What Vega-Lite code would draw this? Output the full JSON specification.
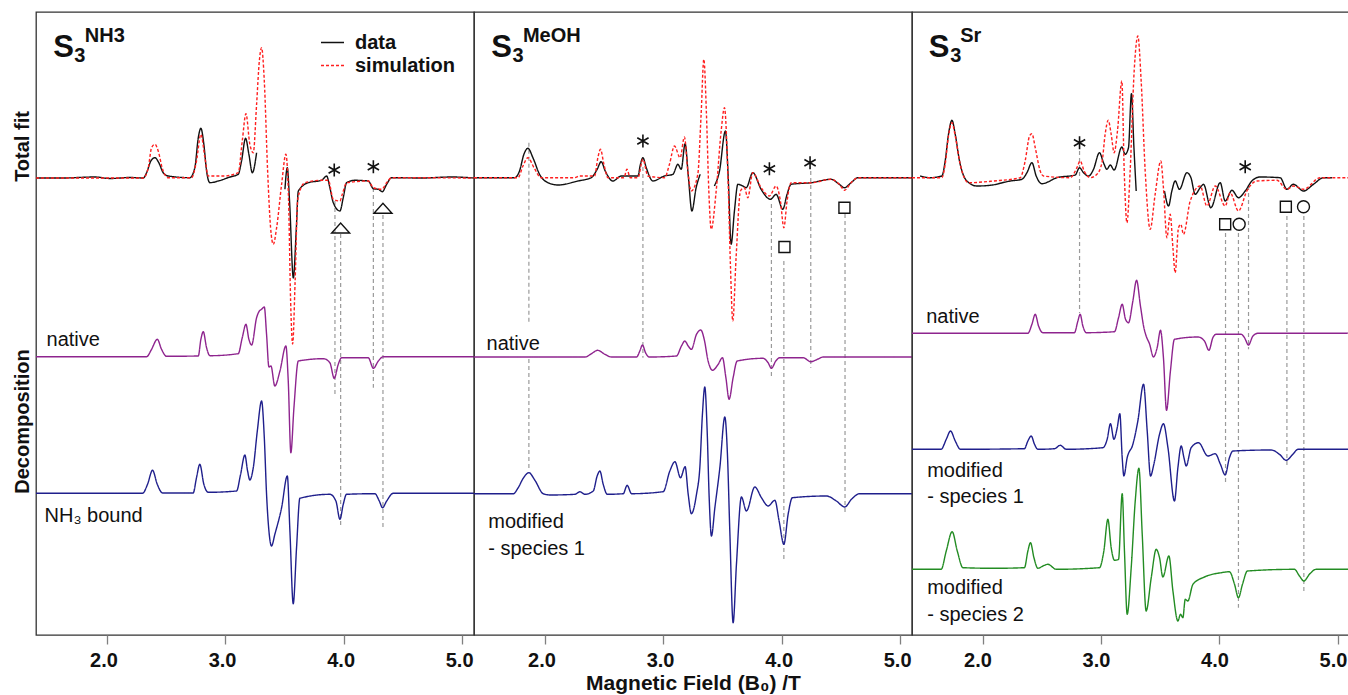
{
"$schema": "https://vega.github.io/schema/vega-lite/v6.json",
"padding": {"left": 0, "top": 11, "right": 0, "bottom": 0},
"background": "white",
"spacing": 0,
"bounds": "flush",
"config": {"view": {"stroke": "#333333", "strokeWidth": 1.3}, "font": "Liberation Sans"},
"resolve": {"scale": {"color": "independent", "strokeDash": "independent", "x": "independent", "y": "independent"}, "legend": {"color": "independent", "strokeDash": "independent"}},
"datasets": {
"l1": [
{"t":"data","x":1.405,"y":457},{"t":"data","x":1.62,"y":457},{"t":"data","x":1.90,"y":458},{"t":"data","x":2.03,"y":456.5},{"t":"data","x":2.20,"y":457.5},{"t":"data","x":2.310,"y":457},{"t":"data","x":2.338,"y":462.3},{"t":"data","x":2.374,"y":474},{"t":"data","x":2.408,"y":477.3},{"t":"data","x":2.441,"y":472.3},{"t":"data","x":2.478,"y":462.3},{"t":"data","x":2.521,"y":459},{"t":"data","x":2.703,"y":457.3},{"t":"data","x":2.745,"y":467.3},{"t":"data","x":2.774,"y":497.3},{"t":"data","x":2.796,"y":506.7},{"t":"data","x":2.821,"y":490.7},{"t":"data","x":2.844,"y":464},{"t":"data","x":2.872,"y":452.3},{"t":"data","x":2.943,"y":454},{"t":"data","x":3.041,"y":458},{"t":"data","x":3.111,"y":460.7},{"t":"data","x":3.139,"y":474},{"t":"data","x":3.173,"y":496.7},{"t":"data","x":3.201,"y":480.7},{"t":"data","x":3.230,"y":462.3},{"t":"data","x":3.266,"y":482.3},
{"t":"data","s":2,"x":3.505,"y":445.7},{"t":"data","s":2,"x":3.525,"y":467.3},{"t":"data","s":2,"x":3.544,"y":434},{"t":"data","s":2,"x":3.576,"y":357},{"t":"data","s":2,"x":3.600,"y":404},{"t":"data","s":2,"x":3.618,"y":444},{"t":"data","s":2,"x":3.702,"y":452.3},{"t":"data","s":2,"x":3.814,"y":454.7},{"t":"data","s":2,"x":3.857,"y":459},{"t":"data","s":2,"x":3.884,"y":447.3},{"t":"data","s":2,"x":3.913,"y":432.3},{"t":"data","s":2,"x":3.969,"y":424},{"t":"data","s":2,"x":3.997,"y":437.3},{"t":"data","s":2,"x":4.025,"y":452.3},{"t":"data","s":2,"x":4.095,"y":454.7},{"t":"data","s":2,"x":4.208,"y":454},{"t":"data","s":2,"x":4.251,"y":446.3},{"t":"data","s":2,"x":4.293,"y":445.7},{"t":"data","s":2,"x":4.327,"y":443.3},{"t":"data","s":2,"x":4.363,"y":450.7},{"t":"data","s":2,"x":4.405,"y":457.3},{"t":"data","s":2,"x":4.658,"y":457},{"t":"data","s":2,"x":4.911,"y":458},{"t":"data","s":2,"x":5.10,"y":457},
{"t":"simulation","x":1.405,"y":457},{"t":"simulation","x":2.310,"y":457},{"t":"simulation","x":2.352,"y":467.3},{"t":"simulation","x":2.380,"y":487.3},{"t":"simulation","x":2.408,"y":490.7},{"t":"simulation","x":2.436,"y":484},{"t":"simulation","x":2.473,"y":465.7},{"t":"simulation","x":2.521,"y":457.3},{"t":"simulation","x":2.717,"y":457.3},{"t":"simulation","x":2.759,"y":474},{"t":"simulation","x":2.796,"y":500.7},{"t":"simulation","x":2.830,"y":477.3},{"t":"simulation","x":2.858,"y":459},{"t":"simulation","x":2.985,"y":459},{"t":"simulation","x":3.111,"y":462.3},{"t":"simulation","x":3.145,"y":494},{"t":"simulation","x":3.176,"y":521.3},{"t":"simulation","x":3.209,"y":490.7},{"t":"simulation","x":3.238,"y":482.3},{"t":"simulation","x":3.266,"y":530.7},{"t":"simulation","x":3.289,"y":574},{"t":"simulation","x":3.308,"y":587.3},{"t":"simulation","x":3.331,"y":554},{"t":"simulation","x":3.359,"y":464},{"t":"simulation","x":3.384,"y":407.3},{"t":"simulation","x":3.407,"y":390.7},{"t":"simulation","x":3.435,"y":407.3},{"t":"simulation","x":3.477,"y":450.7},{"t":"simulation","x":3.513,"y":480.7},{"t":"simulation","x":3.536,"y":434},{"t":"simulation","x":3.553,"y":334},{"t":"simulation","x":3.570,"y":291},{"t":"simulation","x":3.591,"y":354},{"t":"simulation","x":3.612,"y":434},{"t":"simulation","x":3.631,"y":444},{"t":"simulation","x":3.673,"y":452.3},{"t":"simulation","x":3.814,"y":454.7},{"t":"simulation","x":3.871,"y":454.7},{"t":"simulation","x":3.913,"y":435.7},{"t":"simulation","x":3.969,"y":434},{"t":"simulation","x":3.989,"y":440.7},{"t":"simulation","x":4.025,"y":452.3},{"t":"simulation","x":4.208,"y":454},{"t":"simulation","x":4.251,"y":447.3},{"t":"simulation","x":4.321,"y":445.7},{"t":"simulation","x":4.363,"y":452.3},{"t":"simulation","x":4.405,"y":457.3},{"t":"simulation","x":5.10,"y":457},
{"t":"native","x":1.405,"y":278.3},{"t":"native","x":2.338,"y":278.3},{"t":"native","x":2.380,"y":285.7},{"t":"native","x":2.428,"y":295.7},{"t":"native","x":2.464,"y":285.7},{"t":"native","x":2.506,"y":278.7},{"t":"native","x":2.774,"y":279},{"t":"native","x":2.796,"y":295.7},{"t":"native","x":2.816,"y":303.3},{"t":"native","x":2.844,"y":287.3},{"t":"native","x":2.872,"y":279.3},{"t":"native","x":3.111,"y":281.3},{"t":"native","x":3.145,"y":297.3},{"t":"native","x":3.176,"y":310.7},{"t":"native","x":3.201,"y":295.7},{"t":"native","x":3.224,"y":290},{"t":"native","x":3.266,"y":317.3},{"t":"native","x":3.289,"y":324},{"t":"native","x":3.308,"y":325.7},{"t":"native","x":3.331,"y":328},{"t":"native","x":3.350,"y":300.7},{"t":"native","x":3.370,"y":268},{"t":"native","x":3.387,"y":269},{"t":"native","x":3.420,"y":249},{"t":"native","x":3.463,"y":264},{"t":"native","x":3.513,"y":289},{"t":"native","x":3.533,"y":254},{"t":"native","x":3.555,"y":182.3},{"t":"native","x":3.581,"y":227.3},{"t":"native","x":3.618,"y":274},{"t":"native","x":3.829,"y":276.3},{"t":"native","x":3.884,"y":272.3},{"t":"native","x":3.921,"y":256.7},{"t":"native","x":3.955,"y":270.7},{"t":"native","x":3.983,"y":277.3},{"t":"native","x":4.208,"y":277.3},{"t":"native","x":4.251,"y":266.7},{"t":"native","x":4.293,"y":274},{"t":"native","x":4.335,"y":278.3},{"t":"native","x":5.10,"y":278.3},
{"t":"NH3","x":1.405,"y":141.7},{"t":"NH3","x":2.304,"y":141.7},{"t":"NH3","x":2.346,"y":150.7},{"t":"NH3","x":2.388,"y":164.7},{"t":"NH3","x":2.428,"y":150.7},{"t":"NH3","x":2.473,"y":142},{"t":"NH3","x":2.731,"y":142},{"t":"NH3","x":2.759,"y":157.3},{"t":"NH3","x":2.787,"y":170.7},{"t":"NH3","x":2.821,"y":150.7},{"t":"NH3","x":2.858,"y":142.7},{"t":"NH3","x":3.097,"y":144},{"t":"NH3","x":3.131,"y":160.7},{"t":"NH3","x":3.167,"y":180},{"t":"NH3","x":3.190,"y":164},{"t":"NH3","x":3.209,"y":155},{"t":"NH3","x":3.238,"y":167.3},{"t":"NH3","x":3.272,"y":204},{"t":"NH3","x":3.308,"y":234},{"t":"NH3","x":3.331,"y":197.3},{"t":"NH3","x":3.350,"y":140.7},{"t":"NH3","x":3.370,"y":104},{"t":"NH3","x":3.392,"y":89},{"t":"NH3","x":3.420,"y":100.7},{"t":"NH3","x":3.477,"y":127.3},{"t":"NH3","x":3.525,"y":159},{"t":"NH3","x":3.547,"y":104},{"t":"NH3","x":3.575,"y":31.3},{"t":"NH3","x":3.603,"y":87.3},{"t":"NH3","x":3.631,"y":136.7},{"t":"NH3","x":3.884,"y":140.7},{"t":"NH3","x":3.935,"y":134},{"t":"NH3","x":3.969,"y":115.7},{"t":"NH3","x":3.997,"y":130.7},{"t":"NH3","x":4.025,"y":140.7},{"t":"NH3","x":4.264,"y":141.3},{"t":"NH3","x":4.301,"y":134},{"t":"NH3","x":4.329,"y":127.3},{"t":"NH3","x":4.363,"y":134},{"t":"NH3","x":4.419,"y":141.7},{"t":"NH3","x":5.10,"y":141.7}
],
"l2": [
{"t":"data","x":1.405,"y":457.3},{"t":"data","x":1.747,"y":457.3},{"t":"data","x":1.789,"y":464},{"t":"data","x":1.826,"y":480.7},{"t":"data","x":1.860,"y":486.7},{"t":"data","x":1.902,"y":477.3},{"t":"data","x":1.958,"y":460.7},{"t":"data","x":2.029,"y":452.3},{"t":"data","x":2.113,"y":450},{"t":"data","x":2.282,"y":454},{"t":"data","x":2.394,"y":457.3},{"t":"data","x":2.444,"y":465.7},{"t":"data","x":2.478,"y":473.3},{"t":"data","x":2.512,"y":464},{"t":"data","x":2.577,"y":454},{"t":"data","x":2.647,"y":459},{"t":"data","x":2.788,"y":459},{"t":"data","x":2.809,"y":470.7},{"t":"data","x":2.830,"y":477.3},{"t":"data","x":2.858,"y":467.3},{"t":"data","x":2.914,"y":454},{"t":"data","x":3.012,"y":459},{"t":"data","x":3.083,"y":460.7},{"t":"data","x":3.125,"y":470.7},{"t":"data","x":3.153,"y":465.7},{"t":"data","x":3.186,"y":491.3},{"t":"data","x":3.214,"y":457.3},{"t":"data","x":3.243,"y":424},{"t":"data","x":3.279,"y":447.3},{"t":"data","x":3.313,"y":460.7},
{"t":"data","s":2,"x":3.433,"y":449},{"t":"data","s":2,"x":3.476,"y":464},{"t":"data","s":2,"x":3.526,"y":504},{"t":"data","s":2,"x":3.551,"y":454},{"t":"data","s":2,"x":3.574,"y":390.7},{"t":"data","s":2,"x":3.602,"y":424},{"t":"data","s":2,"x":3.631,"y":450.7},{"t":"data","s":2,"x":3.673,"y":449},{"t":"data","s":2,"x":3.701,"y":447.3},{"t":"data","s":2,"x":3.757,"y":462.3},{"t":"data","s":2,"x":3.827,"y":445.7},{"t":"data","s":2,"x":3.906,"y":435.7},{"t":"data","s":2,"x":3.954,"y":440.7},{"t":"data","s":2,"x":4.010,"y":425.7},{"t":"data","s":2,"x":4.046,"y":440.7},{"t":"data","s":2,"x":4.080,"y":450.7},{"t":"data","s":2,"x":4.249,"y":452.3},{"t":"data","s":2,"x":4.417,"y":455.7},{"t":"data","s":2,"x":4.487,"y":450.7},{"t":"data","s":2,"x":4.530,"y":447.3},{"t":"data","s":2,"x":4.586,"y":452.3},{"t":"data","s":2,"x":4.643,"y":457.3},{"t":"data","s":2,"x":5.10,"y":457.3},
{"t":"simulation","x":1.405,"y":457.3},{"t":"simulation","x":1.776,"y":457.3},{"t":"simulation","x":1.818,"y":469},{"t":"simulation","x":1.860,"y":477.3},{"t":"simulation","x":1.911,"y":467.3},{"t":"simulation","x":1.972,"y":457.3},{"t":"simulation","x":2.253,"y":457.3},{"t":"simulation","x":2.295,"y":459},{"t":"simulation","x":2.422,"y":459},{"t":"simulation","x":2.450,"y":477.3},{"t":"simulation","x":2.472,"y":485.7},{"t":"simulation","x":2.501,"y":470.7},{"t":"simulation","x":2.535,"y":457.3},{"t":"simulation","x":2.670,"y":457.3},{"t":"simulation","x":2.695,"y":465.7},{"t":"simulation","x":2.723,"y":457.3},{"t":"simulation","x":2.788,"y":457.3},{"t":"simulation","x":2.830,"y":475.7},{"t":"simulation","x":2.872,"y":459},{"t":"simulation","x":3.012,"y":457.3},{"t":"simulation","x":3.054,"y":470.7},{"t":"simulation","x":3.096,"y":489},{"t":"simulation","x":3.144,"y":477.3},{"t":"simulation","x":3.180,"y":498},{"t":"simulation","x":3.209,"y":464},{"t":"simulation","x":3.237,"y":444},{"t":"simulation","x":3.293,"y":460.7},{"t":"simulation","x":3.321,"y":520.7},{"t":"simulation","x":3.344,"y":575.7},{"t":"simulation","x":3.366,"y":520.7},{"t":"simulation","x":3.386,"y":444},{"t":"simulation","x":3.406,"y":405.7},{"t":"simulation","x":3.448,"y":444},{"t":"simulation","x":3.490,"y":504},{"t":"simulation","x":3.518,"y":527.3},{"t":"simulation","x":3.546,"y":464},{"t":"simulation","x":3.568,"y":370.7},{"t":"simulation","x":3.588,"y":314},{"t":"simulation","x":3.616,"y":377.3},{"t":"simulation","x":3.653,"y":444},{"t":"simulation","x":3.686,"y":447.3},{"t":"simulation","x":3.715,"y":437.3},{"t":"simulation","x":3.757,"y":462.3},{"t":"simulation","x":3.827,"y":447.3},{"t":"simulation","x":3.897,"y":439},{"t":"simulation","x":3.954,"y":449},{"t":"simulation","x":3.990,"y":434},{"t":"simulation","x":4.019,"y":407.3},{"t":"simulation","x":4.046,"y":434},{"t":"simulation","x":4.080,"y":452.3},{"t":"simulation","x":4.249,"y":452.3},{"t":"simulation","x":4.417,"y":455.7},{"t":"simulation","x":4.487,"y":450.7},{"t":"simulation","x":4.530,"y":444.7},{"t":"simulation","x":4.586,"y":452.3},{"t":"simulation","x":4.643,"y":457.3},{"t":"simulation","x":5.10,"y":457.3},
{"t":"native","x":1.405,"y":278},{"t":"native","x":2.341,"y":278},{"t":"native","x":2.396,"y":281.3},{"t":"native","x":2.447,"y":284.7},{"t":"native","x":2.509,"y":280.7},{"t":"native","x":2.565,"y":278},{"t":"native","x":2.776,"y":278},{"t":"native","x":2.804,"y":284},{"t":"native","x":2.826,"y":290},{"t":"native","x":2.852,"y":282.3},{"t":"native","x":2.883,"y":278},{"t":"native","x":3.113,"y":279},{"t":"native","x":3.155,"y":289},{"t":"native","x":3.184,"y":294},{"t":"native","x":3.212,"y":289},{"t":"native","x":3.239,"y":285.7},{"t":"native","x":3.282,"y":300.7},{"t":"native","x":3.319,"y":305},{"t":"native","x":3.347,"y":295.7},{"t":"native","x":3.380,"y":274},{"t":"native","x":3.417,"y":264.7},{"t":"native","x":3.465,"y":270.7},{"t":"native","x":3.501,"y":277.3},{"t":"native","x":3.530,"y":257.3},{"t":"native","x":3.557,"y":235.7},{"t":"native","x":3.591,"y":257.3},{"t":"native","x":3.625,"y":274},{"t":"native","x":3.844,"y":276.7},{"t":"native","x":3.886,"y":272.3},{"t":"native","x":3.914,"y":266.7},{"t":"native","x":3.951,"y":274},{"t":"native","x":3.985,"y":277.3},{"t":"native","x":4.181,"y":277.3},{"t":"native","x":4.246,"y":273.3},{"t":"native","x":4.308,"y":276},{"t":"native","x":4.350,"y":278},{"t":"native","x":5.10,"y":278},
{"t":"mod1","x":1.405,"y":141.3},{"t":"mod1","x":1.736,"y":141.3},{"t":"mod1","x":1.778,"y":147.3},{"t":"mod1","x":1.820,"y":156.7},{"t":"mod1","x":1.868,"y":162.3},{"t":"mod1","x":1.919,"y":154.7},{"t":"mod1","x":1.989,"y":141.3},{"t":"mod1","x":2.046,"y":140},{"t":"mod1","x":2.256,"y":140.7},{"t":"mod1","x":2.298,"y":143.3},{"t":"mod1","x":2.341,"y":140.7},{"t":"mod1","x":2.411,"y":144},{"t":"mod1","x":2.444,"y":159},{"t":"mod1","x":2.467,"y":164},{"t":"mod1","x":2.495,"y":150.7},{"t":"mod1","x":2.529,"y":140.7},{"t":"mod1","x":2.664,"y":141.3},{"t":"mod1","x":2.697,"y":149.7},{"t":"mod1","x":2.734,"y":141.3},{"t":"mod1","x":3.001,"y":143.3},{"t":"mod1","x":3.057,"y":164},{"t":"mod1","x":3.100,"y":173.3},{"t":"mod1","x":3.147,"y":157.3},{"t":"mod1","x":3.186,"y":168.3},{"t":"mod1","x":3.212,"y":140.7},{"t":"mod1","x":3.239,"y":121.3},{"t":"mod1","x":3.282,"y":140.7},{"t":"mod1","x":3.310,"y":167.3},{"t":"mod1","x":3.332,"y":220.7},{"t":"mod1","x":3.352,"y":248},{"t":"mod1","x":3.372,"y":204},{"t":"mod1","x":3.389,"y":137.3},{"t":"mod1","x":3.408,"y":99},{"t":"mod1","x":3.437,"y":127.3},{"t":"mod1","x":3.479,"y":167.3},{"t":"mod1","x":3.521,"y":218},{"t":"mod1","x":3.543,"y":180.7},{"t":"mod1","x":3.563,"y":104},{"t":"mod1","x":3.591,"y":12.3},{"t":"mod1","x":3.619,"y":70.7},{"t":"mod1","x":3.661,"y":138},{"t":"mod1","x":3.703,"y":124},{"t":"mod1","x":3.774,"y":148},{"t":"mod1","x":3.830,"y":137.3},{"t":"mod1","x":3.886,"y":129},{"t":"mod1","x":3.943,"y":134.7},{"t":"mod1","x":3.979,"y":114},{"t":"mod1","x":4.019,"y":90.7},{"t":"mod1","x":4.055,"y":120.7},{"t":"mod1","x":4.091,"y":137.3},{"t":"mod1","x":4.378,"y":139},{"t":"mod1","x":4.462,"y":134},{"t":"mod1","x":4.533,"y":128},{"t":"mod1","x":4.589,"y":135.7},{"t":"mod1","x":4.659,"y":141.3},{"t":"mod1","x":5.10,"y":141.3}
],
"l3": [
{"t":"data","x":1.474,"y":459},{"t":"data","x":1.559,"y":457.3},{"t":"data","x":1.657,"y":459},{"t":"data","x":1.685,"y":474},{"t":"data","x":1.713,"y":500.7},{"t":"data","x":1.742,"y":514.7},{"t":"data","x":1.770,"y":500.7},{"t":"data","x":1.806,"y":474},{"t":"data","x":1.868,"y":454},{"t":"data","x":1.953,"y":449},{"t":"data","x":2.065,"y":449.7},{"t":"data","x":2.234,"y":454},{"t":"data","x":2.332,"y":455.7},{"t":"data","x":2.375,"y":462.3},{"t":"data","x":2.417,"y":472.3},{"t":"data","x":2.453,"y":459},{"t":"data","x":2.501,"y":451.3},{"t":"data","x":2.628,"y":457.3},{"t":"data","x":2.782,"y":460},{"t":"data","x":2.819,"y":467.3},{"t":"data","x":2.852,"y":462.3},{"t":"data","x":2.895,"y":459},{"t":"data","x":2.937,"y":465.7},{"t":"data","x":2.987,"y":482.3},{"t":"data","x":3.021,"y":472.3},{"t":"data","x":3.050,"y":465.7},{"t":"data","x":3.078,"y":470},{"t":"data","x":3.111,"y":465},{"t":"data","x":3.176,"y":488},{"t":"data","x":3.204,"y":480.7},{"t":"data","x":3.232,"y":487.3},{"t":"data","x":3.257,"y":541.3},{"t":"data","x":3.278,"y":487.3},{"t":"data","x":3.297,"y":444},
{"t":"data","s":2,"x":3.536,"y":444},{"t":"data","s":2,"x":3.570,"y":429},{"t":"data","s":2,"x":3.598,"y":444},{"t":"data","s":2,"x":3.626,"y":454},{"t":"data","s":2,"x":3.662,"y":445.7},{"t":"data","s":2,"x":3.725,"y":462.3},{"t":"data","s":2,"x":3.759,"y":457.3},{"t":"data","s":2,"x":3.795,"y":440.7},{"t":"data","s":2,"x":3.837,"y":447.3},{"t":"data","s":2,"x":3.865,"y":450.7},{"t":"data","s":2,"x":3.927,"y":427.3},{"t":"data","s":2,"x":4.006,"y":452.3},{"t":"data","s":2,"x":4.048,"y":434},{"t":"data","s":2,"x":4.105,"y":444.7},{"t":"data","s":2,"x":4.160,"y":437.3},{"t":"data","s":2,"x":4.217,"y":444},{"t":"data","s":2,"x":4.273,"y":454},{"t":"data","s":2,"x":4.343,"y":458},{"t":"data","s":2,"x":4.512,"y":457.3},{"t":"data","s":2,"x":4.569,"y":445.7},{"t":"data","s":2,"x":4.624,"y":450.7},{"t":"data","s":2,"x":4.709,"y":444},{"t":"data","s":2,"x":4.793,"y":450.7},{"t":"data","s":2,"x":4.878,"y":457.3},{"t":"data","s":2,"x":4.949,"y":457.3},
{"t":"simulation","x":1.405,"y":457.3},{"t":"simulation","x":1.657,"y":457.3},{"t":"simulation","x":1.685,"y":470.7},{"t":"simulation","x":1.713,"y":499},{"t":"simulation","x":1.742,"y":512.3},{"t":"simulation","x":1.770,"y":499},{"t":"simulation","x":1.812,"y":470.7},{"t":"simulation","x":1.882,"y":452.3},{"t":"simulation","x":2.093,"y":454},{"t":"simulation","x":2.318,"y":457.3},{"t":"simulation","x":2.360,"y":474},{"t":"simulation","x":2.397,"y":499},{"t":"simulation","x":2.417,"y":501.3},{"t":"simulation","x":2.445,"y":487.3},{"t":"simulation","x":2.487,"y":464},{"t":"simulation","x":2.515,"y":459},{"t":"simulation","x":2.740,"y":457.3},{"t":"simulation","x":2.797,"y":467.3},{"t":"simulation","x":2.824,"y":474},{"t":"simulation","x":2.858,"y":464},{"t":"simulation","x":2.909,"y":457.3},{"t":"simulation","x":2.965,"y":460.7},{"t":"simulation","x":3.008,"y":472.3},{"t":"simulation","x":3.035,"y":500.7},{"t":"simulation","x":3.061,"y":514.7},{"t":"simulation","x":3.086,"y":500.7},{"t":"simulation","x":3.111,"y":482.3},{"t":"simulation","x":3.139,"y":504},{"t":"simulation","x":3.176,"y":554},{"t":"simulation","x":3.196,"y":464},{"t":"simulation","x":3.219,"y":412.3},{"t":"simulation","x":3.246,"y":464},{"t":"simulation","x":3.280,"y":564},{"t":"simulation","x":3.311,"y":599},{"t":"simulation","x":3.339,"y":554},{"t":"simulation","x":3.373,"y":464},{"t":"simulation","x":3.415,"y":405.7},{"t":"simulation","x":3.457,"y":440.7},{"t":"simulation","x":3.505,"y":474},{"t":"simulation","x":3.527,"y":447.3},{"t":"simulation","x":3.556,"y":397.3},{"t":"simulation","x":3.584,"y":420.7},{"t":"simulation","x":3.607,"y":387.3},{"t":"simulation","x":3.626,"y":362.3},{"t":"simulation","x":3.654,"y":407.3},{"t":"simulation","x":3.674,"y":410.7},{"t":"simulation","x":3.696,"y":400.7},{"t":"simulation","x":3.753,"y":434},{"t":"simulation","x":3.837,"y":449},{"t":"simulation","x":3.894,"y":429},{"t":"simulation","x":3.964,"y":449},{"t":"simulation","x":4.048,"y":429},{"t":"simulation","x":4.090,"y":442.3},{"t":"simulation","x":4.160,"y":424},{"t":"simulation","x":4.231,"y":444},{"t":"simulation","x":4.316,"y":454},{"t":"simulation","x":4.484,"y":454.7},{"t":"simulation","x":4.569,"y":445.7},{"t":"simulation","x":4.624,"y":449},{"t":"simulation","x":4.709,"y":445.7},{"t":"simulation","x":4.850,"y":457.3},{"t":"simulation","x":5.093,"y":457.3},
{"t":"native","x":1.405,"y":301.7},{"t":"native","x":2.383,"y":301.7},{"t":"native","x":2.417,"y":310.7},{"t":"native","x":2.445,"y":320.7},{"t":"native","x":2.473,"y":309},{"t":"native","x":2.510,"y":302.3},{"t":"native","x":2.776,"y":302.3},{"t":"native","x":2.805,"y":314},{"t":"native","x":2.824,"y":320.7},{"t":"native","x":2.847,"y":309},{"t":"native","x":2.875,"y":302.3},{"t":"native","x":3.114,"y":303.3},{"t":"native","x":3.148,"y":317.3},{"t":"native","x":3.179,"y":330.7},{"t":"native","x":3.207,"y":315.7},{"t":"native","x":3.232,"y":312.3},{"t":"native","x":3.269,"y":334},{"t":"native","x":3.300,"y":354.7},{"t":"native","x":3.333,"y":329},{"t":"native","x":3.362,"y":307.3},{"t":"native","x":3.381,"y":299},{"t":"native","x":3.409,"y":291.3},{"t":"native","x":3.443,"y":278},{"t":"native","x":3.474,"y":287.3},{"t":"native","x":3.502,"y":304.7},{"t":"native","x":3.527,"y":277.3},{"t":"native","x":3.553,"y":224.7},{"t":"native","x":3.586,"y":264},{"t":"native","x":3.620,"y":295.7},{"t":"native","x":3.818,"y":298},{"t":"native","x":3.873,"y":294},{"t":"native","x":3.911,"y":284.7},{"t":"native","x":3.944,"y":297.3},{"t":"native","x":3.972,"y":300.7},{"t":"native","x":4.183,"y":300.7},{"t":"native","x":4.211,"y":297.3},{"t":"native","x":4.245,"y":290},{"t":"native","x":4.282,"y":299},{"t":"native","x":4.324,"y":301.7},{"t":"native","x":5.093,"y":301.7},
{"t":"mod1","x":1.405,"y":185.7},{"t":"mod1","x":1.651,"y":185.7},{"t":"mod1","x":1.694,"y":195.7},{"t":"mod1","x":1.730,"y":204},{"t":"mod1","x":1.770,"y":194},{"t":"mod1","x":1.814,"y":185.7},{"t":"mod1","x":2.354,"y":186.3},{"t":"mod1","x":2.383,"y":194},{"t":"mod1","x":2.411,"y":199},{"t":"mod1","x":2.439,"y":190.7},{"t":"mod1","x":2.467,"y":185.7},{"t":"mod1","x":2.608,"y":186.3},{"t":"mod1","x":2.656,"y":189.7},{"t":"mod1","x":2.706,"y":185.7},{"t":"mod1","x":3.016,"y":187.3},{"t":"mod1","x":3.052,"y":195.7},{"t":"mod1","x":3.080,"y":211.3},{"t":"mod1","x":3.109,"y":195.7},{"t":"mod1","x":3.137,"y":207.3},{"t":"mod1","x":3.159,"y":221.3},{"t":"mod1","x":3.179,"y":177.3},{"t":"mod1","x":3.193,"y":159},{"t":"mod1","x":3.221,"y":177.3},{"t":"mod1","x":3.269,"y":190.7},{"t":"mod1","x":3.311,"y":214},{"t":"mod1","x":3.359,"y":250.7},{"t":"mod1","x":3.390,"y":204},{"t":"mod1","x":3.418,"y":159},{"t":"mod1","x":3.446,"y":170.7},{"t":"mod1","x":3.494,"y":200.7},{"t":"mod1","x":3.527,"y":211.3},{"t":"mod1","x":3.565,"y":187.3},{"t":"mod1","x":3.620,"y":134},{"t":"mod1","x":3.649,"y":167.3},{"t":"mod1","x":3.677,"y":189},{"t":"mod1","x":3.700,"y":177.3},{"t":"mod1","x":3.719,"y":169},{"t":"mod1","x":3.761,"y":187.3},{"t":"mod1","x":3.823,"y":192.3},{"t":"mod1","x":3.902,"y":179},{"t":"mod1","x":3.964,"y":181.3},{"t":"mod1","x":4.008,"y":170.7},{"t":"mod1","x":4.048,"y":160},{"t":"mod1","x":4.084,"y":177.3},{"t":"mod1","x":4.113,"y":184},{"t":"mod1","x":4.436,"y":185},{"t":"mod1","x":4.506,"y":180.7},{"t":"mod1","x":4.563,"y":174.7},{"t":"mod1","x":4.619,"y":180.7},{"t":"mod1","x":4.662,"y":185.7},{"t":"mod1","x":5.093,"y":185.7},
{"t":"mod2","x":1.405,"y":65.7},{"t":"mod2","x":1.651,"y":65.7},{"t":"mod2","x":1.694,"y":84},{"t":"mod2","x":1.744,"y":103.3},{"t":"mod2","x":1.787,"y":84},{"t":"mod2","x":1.835,"y":67.3},{"t":"mod2","x":2.101,"y":66.7},{"t":"mod2","x":2.354,"y":67.3},{"t":"mod2","x":2.383,"y":84},{"t":"mod2","x":2.405,"y":92.3},{"t":"mod2","x":2.434,"y":77.3},{"t":"mod2","x":2.467,"y":66.7},{"t":"mod2","x":2.510,"y":69},{"t":"mod2","x":2.552,"y":70.7},{"t":"mod2","x":2.622,"y":65.7},{"t":"mod2","x":2.987,"y":67.3},{"t":"mod2","x":3.024,"y":84},{"t":"mod2","x":3.058,"y":115.7},{"t":"mod2","x":3.086,"y":87.3},{"t":"mod2","x":3.114,"y":74.7},{"t":"mod2","x":3.148,"y":75.7},{"t":"mod2","x":3.179,"y":141.3},{"t":"mod2","x":3.198,"y":84},{"t":"mod2","x":3.221,"y":20.7},{"t":"mod2","x":3.255,"y":67.3},{"t":"mod2","x":3.289,"y":134},{"t":"mod2","x":3.320,"y":166.7},{"t":"mod2","x":3.348,"y":100.7},{"t":"mod2","x":3.381,"y":24},{"t":"mod2","x":3.424,"y":57.3},{"t":"mod2","x":3.466,"y":85.7},{"t":"mod2","x":3.494,"y":77.3},{"t":"mod2","x":3.522,"y":58},{"t":"mod2","x":3.573,"y":79},{"t":"mod2","x":3.607,"y":44},{"t":"mod2","x":3.649,"y":14},{"t":"mod2","x":3.671,"y":20.7},{"t":"mod2","x":3.691,"y":17.3},{"t":"mod2","x":3.711,"y":35.7},{"t":"mod2","x":3.733,"y":34},{"t":"mod2","x":3.776,"y":50.7},{"t":"mod2","x":3.873,"y":58},{"t":"mod2","x":4.014,"y":62.3},{"t":"mod2","x":4.084,"y":63.3},{"t":"mod2","x":4.127,"y":50.7},{"t":"mod2","x":4.160,"y":37.3},{"t":"mod2","x":4.194,"y":50.7},{"t":"mod2","x":4.236,"y":64},{"t":"mod2","x":4.633,"y":65.7},{"t":"mod2","x":4.675,"y":59},{"t":"mod2","x":4.712,"y":54},{"t":"mod2","x":4.759,"y":60.7},{"t":"mod2","x":4.816,"y":65.7},{"t":"mod2","x":5.093,"y":65.7}
],
"rules": [
{"p":1,"x":3.927,"y":434,"y2":240.7},{"p":1,"x":3.975,"y":401,"y2":107},{"p":1,"x":4.251,"y":447,"y2":247.3},{"p":1,"x":4.332,"y":420,"y2":107},
{"p":2,"x":1.868,"y":492.3,"y2":310.7},{"p":2,"x":1.868,"y":276,"y2":166},{"p":2,"x":2.830,"y":468,"y2":277.3},{"p":2,"x":3.914,"y":431,"y2":256},{"p":2,"x":4.019,"y":374,"y2":76},{"p":2,"x":4.246,"y":464,"y2":267.3},{"p":2,"x":4.535,"y":421,"y2":121},
{"p":3,"x":2.819,"y":484,"y2":322},{"p":3,"x":4.051,"y":402,"y2":150.7},{"p":3,"x":4.160,"y":402,"y2":27.3},{"p":3,"x":4.245,"y":449,"y2":285.7},{"p":3,"x":4.569,"y":419,"y2":167.3},{"p":3,"x":4.712,"y":419,"y2":42.3}
],
"marks": [
{"p":1,"m":"star","x":3.921,"y":465},{"p":1,"m":"star","x":4.251,"y":468.3},{"p":1,"m":"tri","x":3.975,"y":407},{"p":1,"m":"tri","x":4.332,"y":426.7},
{"p":2,"m":"star","x":2.830,"y":494},{"p":2,"m":"star","x":3.897,"y":466.3},{"p":2,"m":"star","x":4.240,"y":472.3},{"p":2,"m":"sq","x":4.024,"y":388},{"p":2,"m":"sq","x":4.530,"y":427.3},
{"p":3,"m":"star","x":2.819,"y":492.3},{"p":3,"m":"star","x":4.217,"y":468.3},{"p":3,"m":"sq","x":4.048,"y":410.7},{"p":3,"m":"circ","x":4.166,"y":410.7},{"p":3,"m":"sq","x":4.560,"y":428.3},{"p":3,"m":"circ","x":4.709,"y":428.3}
],
"labels": [
{"p":1,"x":1.494,"y":289,"txt":"native"},{"p":1,"x":1.477,"y":113.3,"txt":"NH₃ bound"},
{"p":2,"x":1.511,"y":285,"txt":"native"},{"p":2,"x":1.525,"y":106.7,"txt":"modified"},{"p":2,"x":1.525,"y":80,"txt":"- species 1"},
{"p":3,"x":1.525,"y":312.3,"txt":"native"},{"p":3,"x":1.533,"y":158.3,"txt":"modified"},{"p":3,"x":1.533,"y":132.3,"txt":"- species 1"},{"p":3,"x":1.533,"y":40.7,"txt":"modified"},{"p":3,"x":1.533,"y":14,"txt":"- species 2"}
],
"titles": [
{"p":1,"part":"S","x":1.550,"y":578.5,"txt":"S"},{"p":1,"part":"sub","x":1.727,"y":573,"txt":"3"},{"p":1,"part":"sup","x":1.817,"y":593,"txt":"NH3"},
{"p":2,"part":"S","x":1.550,"y":578.5,"txt":"S"},{"p":2,"part":"sub","x":1.730,"y":573,"txt":"3"},{"p":2,"part":"sup","x":1.818,"y":593,"txt":"MeOH"},
{"p":3,"part":"S","x":1.546,"y":578.5,"txt":"S"},{"p":3,"part":"sub","x":1.727,"y":573,"txt":"3"},{"p":3,"part":"sup","x":1.812,"y":593,"txt":"Sr"}
]
},
"hconcat": [
{
"width": 438, "height": 623,
"encoding": {
 "x": {"field": "x", "type": "quantitative", "scale": {"domain": [1.405, 5.1], "nice": false, "zero": false},
  "axis": {"values": [2, 3, 4, 5], "format": ".1f", "title": null, "domain": false, "grid": false, "tickColor": "#808080", "tickSize": 9, "tickWidth": 1.3, "labelFontSize": 20, "labelFontWeight": "bold", "labelColor": "#111111", "labelPadding": 6, "labelOffset": -3, "labelFont": "Liberation Sans", "labelFlush": false}},
 "y": {"field": "y", "type": "quantitative", "scale": {"domain": [0, 623], "nice": false, "zero": false},
  "axis": {"values": [489, 214], "labelExpr": "datum.value > 300 ? 'Total fit' : 'Decomposition'", "labelAngle": 270, "labelAlign": "center", "labelBaseline": "bottom", "ticks": false, "tickSize": 0, "domain": false, "grid": false, "title": null, "labelFontSize": 20, "labelFontWeight": "bold", "labelColor": "#111111", "labelPadding": 4, "minExtent": 35, "maxExtent": 35, "labelFont": "Liberation Sans"}}
},
"layer": [
{"data": {"name": "rules"}, "transform": [{"filter": "datum.p == 1"}],
 "mark": {"type": "rule", "strokeDash": [4, 3], "color": "#9a9a9a", "strokeWidth": 1.2},
 "encoding": {"y2": {"field": "y2"}}},
{"data": {"name": "l1"},
 "mark": {"type": "line", "strokeWidth": 1.4, "interpolate": "monotone"},
 "encoding": {
  "detail": {"field": "s", "type": "nominal"},
  "color": {"field": "t", "type": "nominal", "scale": {"domain": ["data", "simulation", "native", "NH3"], "range": ["#111111", "#ff1f1f", "#8e248e", "#1f1f8c"]},
   "legend": {"values": ["data", "simulation"], "orient": "none", "legendX": 284, "legendY": 18, "title": null, "symbolType": "stroke", "symbolSize": 529, "symbolStrokeWidth": 1.6, "labelFontSize": 20, "labelFontWeight": "bold", "labelColor": "#111111", "labelFont": "Liberation Sans", "labelOffset": 10, "rowPadding": 0, "padding": 0}},
  "strokeDash": {"field": "t", "type": "nominal", "scale": {"domain": ["data", "simulation", "native", "NH3"], "range": [[1, 0], [3, 2], [1, 0], [1, 0]]},
   "legend": {"values": ["data", "simulation"], "orient": "none", "legendX": 284, "legendY": 18, "title": null, "symbolType": "stroke", "symbolSize": 529, "symbolStrokeWidth": 1.6, "labelFontSize": 20, "labelFontWeight": "bold", "labelColor": "#111111", "labelFont": "Liberation Sans", "labelOffset": 10, "rowPadding": 0, "padding": 0}}}},
{"data": {"name": "marks"}, "transform": [{"filter": "datum.p == 1 && datum.m == 'star'"}],
 "mark": {"type": "point", "shape": "M0,-1L0,1M-0.87,-0.5L0.87,0.5M-0.87,0.5L0.87,-0.5", "size": 169, "filled": false, "stroke": "#111111", "strokeWidth": 1.6, "opacity": 1}},
{"data": {"name": "marks"}, "transform": [{"filter": "datum.p == 1 && datum.m == 'tri'"}],
 "mark": {"type": "point", "shape": "M-1,0.55L1,0.55L0,-0.55Z", "size": 324, "filled": false, "stroke": "#111111", "strokeWidth": 1.4, "opacity": 1}},
{"data": {"name": "labels"}, "transform": [{"filter": "datum.p == 1"}],
 "mark": {"type": "text", "align": "left", "baseline": "alphabetic", "fontSize": 20, "font": "Liberation Sans", "color": "#111111"},
 "encoding": {"text": {"field": "txt"}}},
{"data": {"name": "titles"}, "transform": [{"filter": "datum.p == 1 && datum.part == 'S'"}],
 "mark": {"type": "text", "align": "left", "baseline": "alphabetic", "fontSize": 31, "fontWeight": "bold", "font": "Liberation Sans", "color": "#111111"},
 "encoding": {"text": {"field": "txt"}}},
{"data": {"name": "titles"}, "transform": [{"filter": "datum.p == 1 && datum.part != 'S'"}],
 "mark": {"type": "text", "align": "left", "baseline": "alphabetic", "fontSize": 20, "fontWeight": "bold", "font": "Liberation Sans", "color": "#111111"},
 "encoding": {"text": {"field": "txt"}}}
]
},
{
"width": 438, "height": 623,
"encoding": {
 "x": {"field": "x", "type": "quantitative", "scale": {"domain": [1.405, 5.1], "nice": false, "zero": false},
  "axis": {"values": [2, 3, 4, 5], "format": ".1f", "title": "Magnetic Field (B₀) /T", "domain": false, "grid": false, "tickColor": "#808080", "tickSize": 9, "tickWidth": 1.3, "labelFontSize": 20, "labelFontWeight": "bold", "labelColor": "#111111", "labelPadding": 6, "labelOffset": -3, "labelFont": "Liberation Sans", "labelFlush": false, "titleFont": "Liberation Sans", "titleFontSize": 21, "titleFontWeight": "bold", "titleColor": "#111111", "titlePadding": 2}},
 "y": {"field": "y", "type": "quantitative", "scale": {"domain": [0, 623], "nice": false, "zero": false}, "axis": null}
},
"layer": [
{"data": {"name": "rules"}, "transform": [{"filter": "datum.p == 2"}],
 "mark": {"type": "rule", "strokeDash": [4, 3], "color": "#9a9a9a", "strokeWidth": 1.2},
 "encoding": {"y2": {"field": "y2"}}},
{"data": {"name": "l2"},
 "mark": {"type": "line", "strokeWidth": 1.4, "interpolate": "monotone"},
 "encoding": {
  "detail": {"field": "s", "type": "nominal"},
  "color": {"field": "t", "type": "nominal", "legend": null, "scale": {"domain": ["data", "simulation", "native", "mod1"], "range": ["#111111", "#ff1f1f", "#8e248e", "#1f1f8c"]}},
  "strokeDash": {"field": "t", "type": "nominal", "legend": null, "scale": {"domain": ["data", "simulation", "native", "mod1"], "range": [[1, 0], [3, 2], [1, 0], [1, 0]]}}}},
{"data": {"name": "marks"}, "transform": [{"filter": "datum.p == 2 && datum.m == 'star'"}],
 "mark": {"type": "point", "shape": "M0,-1L0,1M-0.87,-0.5L0.87,0.5M-0.87,0.5L0.87,-0.5", "size": 169, "filled": false, "stroke": "#111111", "strokeWidth": 1.6, "opacity": 1}},
{"data": {"name": "marks"}, "transform": [{"filter": "datum.p == 2 && datum.m == 'sq'"}],
 "mark": {"type": "point", "shape": "square", "size": 121, "filled": false, "stroke": "#111111", "strokeWidth": 1.4, "opacity": 1}},
{"data": {"name": "labels"}, "transform": [{"filter": "datum.p == 2"}],
 "mark": {"type": "text", "align": "left", "baseline": "alphabetic", "fontSize": 20, "font": "Liberation Sans", "color": "#111111"},
 "encoding": {"text": {"field": "txt"}}},
{"data": {"name": "titles"}, "transform": [{"filter": "datum.p == 2 && datum.part == 'S'"}],
 "mark": {"type": "text", "align": "left", "baseline": "alphabetic", "fontSize": 31, "fontWeight": "bold", "font": "Liberation Sans", "color": "#111111"},
 "encoding": {"text": {"field": "txt"}}},
{"data": {"name": "titles"}, "transform": [{"filter": "datum.p == 2 && datum.part != 'S'"}],
 "mark": {"type": "text", "align": "left", "baseline": "alphabetic", "fontSize": 20, "fontWeight": "bold", "font": "Liberation Sans", "color": "#111111"},
 "encoding": {"text": {"field": "txt"}}}
]
},
{
"width": 437, "height": 623,
"encoding": {
 "x": {"field": "x", "type": "quantitative", "scale": {"domain": [1.405, 5.093], "nice": false, "zero": false},
  "axis": {"values": [2, 3, 4, 5], "format": ".1f", "title": null, "domain": false, "grid": false, "tickColor": "#808080", "tickSize": 9, "tickWidth": 1.3, "labelFontSize": 20, "labelFontWeight": "bold", "labelColor": "#111111", "labelPadding": 6, "labelOffset": -5, "labelFont": "Liberation Sans", "labelFlush": false}},
 "y": {"field": "y", "type": "quantitative", "scale": {"domain": [0, 623], "nice": false, "zero": false}, "axis": null}
},
"layer": [
{"data": {"name": "rules"}, "transform": [{"filter": "datum.p == 3"}],
 "mark": {"type": "rule", "strokeDash": [4, 3], "color": "#9a9a9a", "strokeWidth": 1.2},
 "encoding": {"y2": {"field": "y2"}}},
{"data": {"name": "l3"},
 "mark": {"type": "line", "strokeWidth": 1.4, "interpolate": "monotone"},
 "encoding": {
  "detail": {"field": "s", "type": "nominal"},
  "color": {"field": "t", "type": "nominal", "legend": null, "scale": {"domain": ["data", "simulation", "native", "mod1", "mod2"], "range": ["#111111", "#ff1f1f", "#8e248e", "#1f1f8c", "#238c23"]}},
  "strokeDash": {"field": "t", "type": "nominal", "legend": null, "scale": {"domain": ["data", "simulation", "native", "mod1", "mod2"], "range": [[1, 0], [3, 2], [1, 0], [1, 0], [1, 0]]}}}},
{"data": {"name": "marks"}, "transform": [{"filter": "datum.p == 3 && datum.m == 'star'"}],
 "mark": {"type": "point", "shape": "M0,-1L0,1M-0.87,-0.5L0.87,0.5M-0.87,0.5L0.87,-0.5", "size": 169, "filled": false, "stroke": "#111111", "strokeWidth": 1.6, "opacity": 1}},
{"data": {"name": "marks"}, "transform": [{"filter": "datum.p == 3 && datum.m == 'sq'"}],
 "mark": {"type": "point", "shape": "square", "size": 121, "filled": false, "stroke": "#111111", "strokeWidth": 1.4, "opacity": 1}},
{"data": {"name": "marks"}, "transform": [{"filter": "datum.p == 3 && datum.m == 'circ'"}],
 "mark": {"type": "point", "shape": "circle", "size": 144, "filled": false, "stroke": "#111111", "strokeWidth": 1.4, "opacity": 1}},
{"data": {"name": "labels"}, "transform": [{"filter": "datum.p == 3"}],
 "mark": {"type": "text", "align": "left", "baseline": "alphabetic", "fontSize": 20, "font": "Liberation Sans", "color": "#111111"},
 "encoding": {"text": {"field": "txt"}}},
{"data": {"name": "titles"}, "transform": [{"filter": "datum.p == 3 && datum.part == 'S'"}],
 "mark": {"type": "text", "align": "left", "baseline": "alphabetic", "fontSize": 31, "fontWeight": "bold", "font": "Liberation Sans", "color": "#111111"},
 "encoding": {"text": {"field": "txt"}}},
{"data": {"name": "titles"}, "transform": [{"filter": "datum.p == 3 && datum.part != 'S'"}],
 "mark": {"type": "text", "align": "left", "baseline": "alphabetic", "fontSize": 20, "fontWeight": "bold", "font": "Liberation Sans", "color": "#111111"},
 "encoding": {"text": {"field": "txt"}}}
]
}
]
}
